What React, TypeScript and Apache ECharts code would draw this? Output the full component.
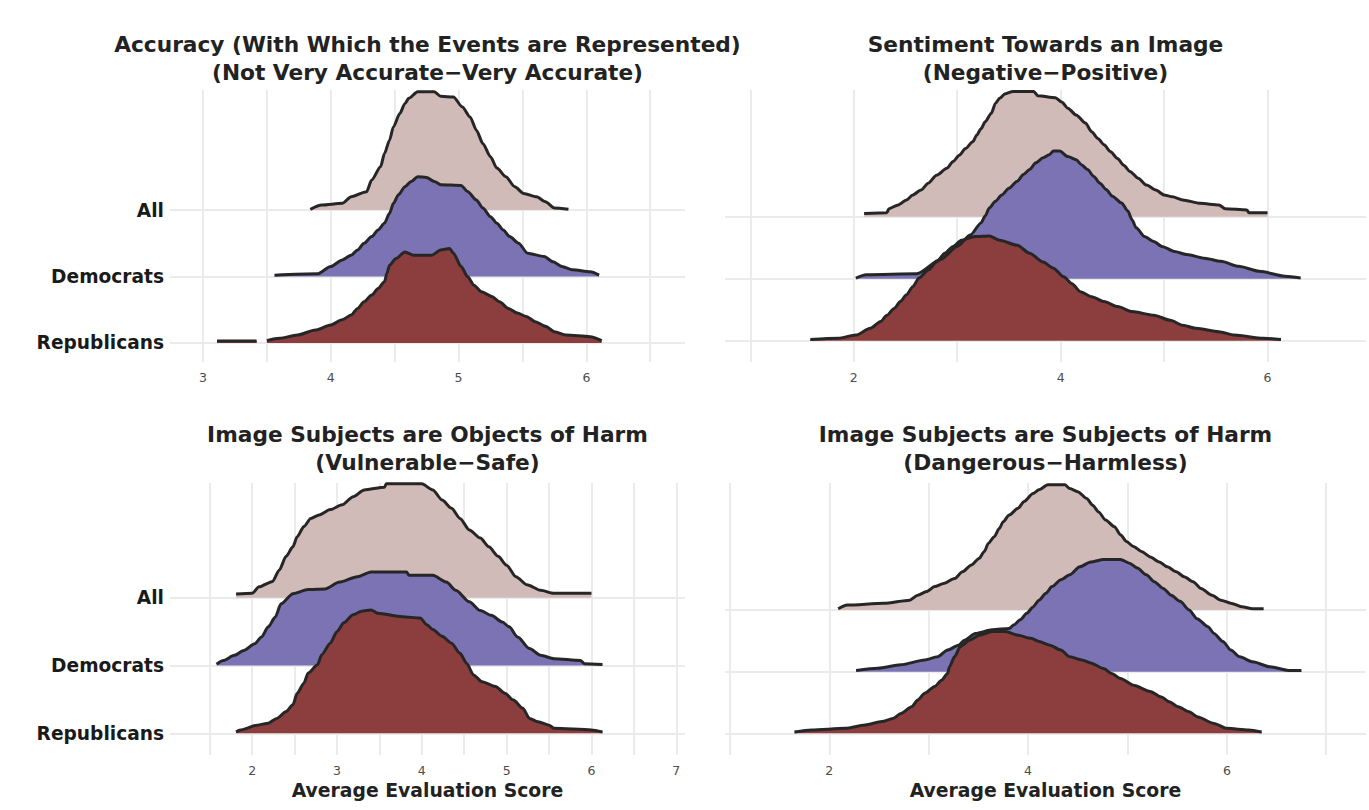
import React, { useEffect, useRef } from 'react';
import * as echarts from 'echarts';

// Row order from bottom to top (y value 1, 2, 3)
const groups = ['Republicans', 'Democrats', 'All'];
const fillColors = ['#8C3E3E', '#7B73B3', '#D1BBB9'];

const titles = [
  'Accuracy (With Which the Events are Represented)\n(Not Very Accurate\u2212Very Accurate)',
  'Sentiment Towards an Image\n(Negative\u2212Positive)',
  'Image Subjects are Objects of Harm\n(Vulnerable\u2212Safe)',
  'Image Subjects are Subjects of Harm\n(Dangerous\u2212Harmless)',
];
const xAxisTitle = 'Average Evaluation Score';

// Panel 1: Accuracy (x, ridge height in row units)
const accAllX = [3.84, 3.93, 4.09, 4.16, 4.28, 4.32, 4.39, 4.42, 4.46, 4.49, 4.54, 4.58, 4.61, 4.68, 4.81, 4.86, 4.96, 5.03, 5.09, 5.14, 5.19, 5.25, 5.30, 5.37, 5.44, 5.51, 5.61, 5.68, 5.75, 5.86];
const accAllH = [0.01, 0.075, 0.10, 0.20, 0.275, 0.45, 0.65, 0.85, 1.05, 1.25, 1.45, 1.60, 1.68, 1.78, 1.78, 1.71, 1.70, 1.55, 1.40, 1.20, 1.00, 0.80, 0.63, 0.50, 0.35, 0.25, 0.20, 0.125, 0.03, 0.01];
const accDemX = [3.56, 3.895, 4.00, 4.09, 4.16, 4.21, 4.26, 4.32, 4.37, 4.42, 4.46, 4.49, 4.53, 4.58, 4.63, 4.68, 4.75, 4.81, 4.86, 5.02, 5.07, 5.14, 5.19, 5.25, 5.30, 5.35, 5.40, 5.47, 5.54, 5.67, 5.74, 5.81, 5.89, 6.03, 6.10];
const accDemH = [0.02, 0.04, 0.15, 0.25, 0.32, 0.40, 0.50, 0.60, 0.70, 0.80, 0.95, 1.10, 1.23, 1.35, 1.43, 1.50, 1.49, 1.43, 1.38, 1.37, 1.28, 1.15, 1.03, 0.90, 0.80, 0.70, 0.60, 0.50, 0.35, 0.30, 0.22, 0.15, 0.10, 0.07, 0.02];
const accRepX = [3.11, 3.42, 3.46, 3.50, 3.60, 3.74, 3.88, 4.00, 4.09, 4.16, 4.21, 4.26, 4.32, 4.37, 4.42, 4.44, 4.46, 4.51, 4.58, 4.65, 4.79, 4.86, 4.93, 4.96, 5.02, 5.07, 5.12, 5.18, 5.26, 5.32, 5.39, 5.46, 5.53, 5.60, 5.68, 5.75, 5.84, 6.03, 6.12];
const accRepH = [0.03, 0.03, null, 0.035, 0.07, 0.12, 0.195, 0.27, 0.35, 0.42, 0.52, 0.62, 0.72, 0.82, 0.92, 1.05, 1.17, 1.27, 1.37, 1.32, 1.32, 1.40, 1.42, 1.35, 1.15, 1.00, 0.87, 0.77, 0.70, 0.62, 0.52, 0.45, 0.40, 0.32, 0.25, 0.17, 0.12, 0.095, 0.035];

// Panel 2: Sentiment
const sentAllX = [2.10, 2.32, 2.34, 2.43, 2.51, 2.57, 2.65, 2.72, 2.80, 2.90, 2.96, 3.02, 3.08, 3.15, 3.19, 3.23, 3.27, 3.33, 3.37, 3.41, 3.46, 3.54, 3.74, 3.78, 3.95, 4.01, 4.07, 4.15, 4.24, 4.30, 4.36, 4.42, 4.48, 4.55, 4.61, 4.67, 4.75, 4.83, 4.92, 5.00, 5.08, 5.18, 5.35, 5.53, 5.59, 5.80, 5.82, 6.00];
const sentAllH = [0.05, 0.065, 0.13, 0.19, 0.27, 0.35, 0.43, 0.54, 0.67, 0.78, 0.89, 0.99, 1.10, 1.21, 1.32, 1.42, 1.53, 1.67, 1.83, 1.91, 1.98, 2.02, 2.02, 1.95, 1.92, 1.85, 1.75, 1.64, 1.51, 1.37, 1.26, 1.16, 1.05, 0.94, 0.83, 0.73, 0.62, 0.51, 0.43, 0.35, 0.32, 0.27, 0.215, 0.19, 0.13, 0.11, 0.065, 0.065];
const sentDemX = [2.02, 2.12, 2.61, 2.84, 3.00, 3.13, 3.23, 3.27, 3.31, 3.37, 3.43, 3.50, 3.58, 3.64, 3.70, 3.76, 3.83, 3.89, 3.93, 3.99, 4.07, 4.15, 4.20, 4.26, 4.32, 4.38, 4.44, 4.50, 4.59, 4.65, 4.69, 4.73, 4.81, 4.90, 4.98, 5.10, 5.22, 5.39, 5.55, 5.72, 5.92, 6.17, 6.32];
const sentDemH = [0.01, 0.065, 0.08, 0.31, 0.52, 0.71, 0.90, 1.01, 1.14, 1.25, 1.35, 1.46, 1.57, 1.68, 1.76, 1.87, 1.95, 2.00, 2.06, 2.06, 1.97, 1.92, 1.84, 1.76, 1.65, 1.54, 1.44, 1.33, 1.22, 1.09, 0.95, 0.82, 0.68, 0.60, 0.52, 0.44, 0.39, 0.33, 0.28, 0.20, 0.12, 0.04, 0.01];
const sentRepX = [1.58, 1.85, 2.02, 2.16, 2.26, 2.32, 2.39, 2.45, 2.51, 2.57, 2.63, 2.72, 2.80, 2.88, 2.96, 3.04, 3.17, 3.31, 3.41, 3.58, 3.70, 3.83, 3.93, 4.03, 4.11, 4.19, 4.30, 4.42, 4.55, 4.69, 4.90, 5.06, 5.18, 5.31, 5.53, 5.68, 5.96, 6.13];
const sentRepH = [0.02, 0.04, 0.09, 0.20, 0.31, 0.41, 0.52, 0.63, 0.74, 0.87, 1.01, 1.14, 1.27, 1.41, 1.52, 1.62, 1.68, 1.69, 1.62, 1.54, 1.41, 1.27, 1.17, 1.03, 0.92, 0.79, 0.71, 0.63, 0.55, 0.47, 0.41, 0.33, 0.25, 0.20, 0.145, 0.09, 0.04, 0.02];

// Panel 3: Objects of Harm
const objAllX = [1.81, 2.00, 2.08, 2.24, 2.32, 2.40, 2.48, 2.53, 2.61, 2.69, 2.79, 2.92, 3.06, 3.19, 3.32, 3.56, 3.58, 4.00, 4.13, 4.24, 4.35, 4.45, 4.56, 4.69, 4.79, 4.90, 5.00, 5.11, 5.24, 5.40, 5.56, 6.00];
const objAllH = [0.054, 0.064, 0.16, 0.24, 0.41, 0.61, 0.75, 0.90, 1.05, 1.17, 1.22, 1.30, 1.37, 1.49, 1.59, 1.63, 1.68, 1.68, 1.59, 1.44, 1.32, 1.17, 1.00, 0.88, 0.75, 0.61, 0.48, 0.31, 0.19, 0.11, 0.064, 0.064];
const objDemX = [1.58, 1.66, 1.79, 1.90, 2.03, 2.11, 2.19, 2.27, 2.34, 2.48, 2.66, 2.86, 3.03, 3.24, 3.40, 3.82, 3.85, 4.13, 4.29, 4.40, 4.56, 4.69, 4.82, 4.95, 5.03, 5.13, 5.27, 5.40, 5.56, 5.87, 5.92, 6.13];
const objDemH = [0.02, 0.074, 0.15, 0.22, 0.32, 0.42, 0.57, 0.71, 0.91, 1.06, 1.12, 1.13, 1.23, 1.31, 1.38, 1.38, 1.33, 1.33, 1.23, 1.11, 0.94, 0.81, 0.74, 0.64, 0.57, 0.42, 0.25, 0.15, 0.10, 0.074, 0.025, 0.015];
const objRepX = [1.81, 1.86, 2.06, 2.19, 2.29, 2.40, 2.48, 2.53, 2.61, 2.66, 2.77, 2.82, 2.92, 3.00, 3.08, 3.19, 3.29, 3.40, 3.48, 3.77, 3.98, 4.06, 4.13, 4.24, 4.35, 4.45, 4.53, 4.61, 4.71, 4.87, 4.98, 5.08, 5.19, 5.27, 5.37, 5.50, 5.56, 6.00, 6.13];
const objRepH = [0.02, 0.05, 0.12, 0.15, 0.22, 0.32, 0.42, 0.59, 0.74, 0.89, 1.01, 1.16, 1.33, 1.50, 1.63, 1.75, 1.80, 1.82, 1.77, 1.72, 1.70, 1.60, 1.53, 1.43, 1.33, 1.18, 1.03, 0.86, 0.76, 0.69, 0.59, 0.49, 0.37, 0.22, 0.17, 0.12, 0.074, 0.05, 0.02];

// Panel 4: Subjects of Harm
const subAllX = [2.09, 2.18, 2.55, 2.81, 2.89, 2.98, 3.06, 3.15, 3.26, 3.34, 3.43, 3.51, 3.56, 3.60, 3.66, 3.71, 3.75, 3.81, 3.90, 3.96, 4.05, 4.11, 4.20, 4.37, 4.42, 4.50, 4.59, 4.65, 4.71, 4.78, 4.87, 4.93, 4.99, 5.06, 5.14, 5.23, 5.32, 5.40, 5.49, 5.57, 5.66, 5.74, 5.85, 5.94, 6.04, 6.15, 6.26, 6.37];
const subAllH = [0.02, 0.08, 0.11, 0.16, 0.24, 0.30, 0.38, 0.43, 0.51, 0.62, 0.73, 0.84, 0.95, 1.08, 1.19, 1.32, 1.43, 1.54, 1.65, 1.76, 1.89, 1.95, 2.03, 2.03, 1.97, 1.92, 1.81, 1.70, 1.59, 1.46, 1.35, 1.22, 1.11, 1.03, 0.95, 0.86, 0.78, 0.70, 0.62, 0.54, 0.46, 0.35, 0.24, 0.16, 0.11, 0.054, 0.02, 0.02];
const subDemX = [2.27, 2.49, 2.72, 2.96, 3.09, 3.19, 3.30, 3.36, 3.47, 3.64, 3.81, 3.86, 3.92, 3.99, 4.05, 4.11, 4.18, 4.24, 4.33, 4.42, 4.52, 4.63, 4.76, 4.93, 5.02, 5.10, 5.19, 5.27, 5.36, 5.44, 5.53, 5.62, 5.70, 5.81, 5.87, 5.96, 6.04, 6.13, 6.26, 6.43, 6.62, 6.75];
const subDemH = [0.02, 0.054, 0.11, 0.19, 0.24, 0.35, 0.43, 0.51, 0.62, 0.68, 0.70, 0.76, 0.84, 0.95, 1.05, 1.16, 1.27, 1.38, 1.49, 1.57, 1.70, 1.78, 1.82, 1.82, 1.76, 1.68, 1.57, 1.46, 1.35, 1.24, 1.14, 1.00, 0.86, 0.73, 0.62, 0.49, 0.35, 0.24, 0.16, 0.08, 0.02, 0.02];
const subRepX = [1.65, 1.82, 2.16, 2.36, 2.53, 2.64, 2.72, 2.83, 2.89, 2.96, 3.06, 3.13, 3.19, 3.21, 3.26, 3.32, 3.41, 3.51, 3.64, 3.77, 3.90, 4.03, 4.11, 4.22, 4.33, 4.42, 4.54, 4.63, 4.76, 4.84, 4.93, 5.06, 5.23, 5.34, 5.42, 5.51, 5.62, 5.70, 5.87, 6.00, 6.22, 6.35];
const subRepH = [0.02, 0.054, 0.08, 0.135, 0.19, 0.24, 0.32, 0.43, 0.54, 0.65, 0.76, 0.86, 0.97, 1.08, 1.24, 1.41, 1.51, 1.59, 1.65, 1.65, 1.59, 1.54, 1.49, 1.43, 1.35, 1.24, 1.19, 1.14, 1.05, 0.97, 0.89, 0.78, 0.68, 0.59, 0.51, 0.43, 0.35, 0.27, 0.16, 0.08, 0.054, 0.02];

// ridges per panel, in row order (Republicans, Democrats, All)
const panelRidges = [
  [[accRepX, accRepH], [accDemX, accDemH], [accAllX, accAllH]],
  [[sentRepX, sentRepH], [sentDemX, sentDemH], [sentAllX, sentAllH]],
  [[objRepX, objRepH], [objDemX, objDemH], [objAllX, objAllH]],
  [[subRepX, subRepH], [subDemX, subDemH], [subAllX, subAllH]],
];

const FONT = 'DejaVu Sans';

// layout per panel
const layouts = [
  { left: 170, top: 90, width: 515, height: 272, xMin: 2.742, xMax: 6.772, step: 0.5, labelEvery: 1, yMin: 0.714, yMax: 4.805, showY: true, xName: false, titleTop: 31 },
  { left: 725, top: 90, width: 641, height: 272, xMin: 0.755, xMax: 6.952, step: 1, labelEvery: 2, yMin: 0.656, yMax: 5.044, showY: false, xName: false, titleTop: 31 },
  { left: 170, top: 483, width: 515, height: 272, xMin: 1.031, xMax: 7.103, step: 0.5, labelEvery: 1, yMin: 0.68, yMax: 4.692, showY: true, xName: true, titleTop: 421 },
  { left: 725, top: 483, width: 641, height: 272, xMin: 0.951, xMax: 7.40, step: 1, labelEvery: 2, yMin: 0.648, yMax: 5.06, showY: false, xName: true, titleTop: 421 },
];

const GRID_COLOR = '#EBEBEB';

function isMultiple(v: number, m: number) {
  const r = v / m;
  return Math.abs(r - Math.round(r)) < 1e-6;
}

export default function App() {
  const ref = useRef<HTMLDivElement>(null);
  useEffect(() => {
    document.body.style.margin = '0';
    if (!ref.current) return;
    const chart = echarts.init(ref.current, undefined, { renderer: 'svg' });

    const grid = layouts.map((l) => ({ left: l.left, top: l.top, width: l.width, height: l.height }));
    const title = layouts.map((l, i) => ({
      text: titles[i],
      left: l.left + l.width / 2,
      top: l.titleTop,
      textAlign: 'center',
      padding: 0,
      textStyle: { fontFamily: FONT, fontSize: 21.7, fontWeight: 'bold', color: '#222222', lineHeight: 27.5 },
    }));
    const xAxis = layouts.map((l, i) => ({
      type: 'value',
      gridIndex: i,
      min: l.xMin,
      max: l.xMax,
      minInterval: l.step,
      maxInterval: l.step,
      splitNumber: Math.round((l.xMax - l.xMin) / l.step),
      axisLine: { show: false },
      axisTick: { show: false },
      axisLabel: {
        showMinLabel: false,
        showMaxLabel: false,
        formatter: (v: number) => (isMultiple(v, l.labelEvery) ? String(Math.round(v)) : ''),
        color: '#4D4D4D',
        fontSize: 12.5,
        fontFamily: FONT,
        margin: 9,
      },
      splitLine: { show: true, showMinLine: false, showMaxLine: false, lineStyle: { color: GRID_COLOR, width: 2 } },
      name: l.xName ? xAxisTitle : '',
      nameLocation: 'middle',
      nameGap: 26,
      nameTextStyle: { fontFamily: FONT, fontSize: 18.8, fontWeight: 'bold', color: '#222222' },
    }));
    const yAxis = layouts.map((l, i) => ({
      type: 'value',
      gridIndex: i,
      min: l.yMin,
      max: l.yMax,
      minInterval: 1,
      maxInterval: 1,
      splitNumber: 4,
      axisLine: { show: false },
      axisTick: { show: false },
      axisLabel: {
        show: l.showY,
        showMinLabel: false,
        showMaxLabel: false,
        formatter: (v: number) => (isMultiple(v, 1) && v >= 1 && v <= groups.length ? groups[Math.round(v) - 1] : ''),
        fontFamily: FONT,
        fontSize: 18.6,
        fontWeight: 'bold',
        color: '#1A1A1A',
        margin: 6,
      },
      splitLine: {
        show: true,
        showMinLine: false,
        showMaxLine: false,
        lineStyle: { color: [GRID_COLOR, GRID_COLOR, GRID_COLOR, 'rgba(0,0,0,0)', 'rgba(0,0,0,0)', 'rgba(0,0,0,0)'], width: 2 },
      },
    }));

    const series: any[] = [];
    panelRidges.forEach((ridges, p) => {
      // draw top row first so lower rows overlap it
      for (let r = ridges.length - 1; r >= 0; r--) {
        const [xs, hs] = ridges[r] as [number[], (number | null)[]];
        const row = r + 1;
        series.push({
          type: 'line',
          name: groups[r],
          xAxisIndex: p,
          yAxisIndex: p,
          data: xs.map((x, k) => [x, hs[k] == null ? '-' : row + (hs[k] as number)]),
          showSymbol: false,
          symbol: 'none',
          smooth: 0.25,
          smoothMonotone: 'x',
          connectNulls: false,
          silent: true,
          lineStyle: { color: '#262626', width: 3 },
          areaStyle: { color: fillColors[r], opacity: 1, origin: row },
        });
      }
    });

    chart.setOption({
      animation: false,
      backgroundColor: '#FFFFFF',
      title,
      grid,
      xAxis,
      yAxis,
      series,
    });
    return () => chart.dispose();
  }, []);
  return <div ref={ref} style={{ width: 1369, height: 810 }} />;
}
